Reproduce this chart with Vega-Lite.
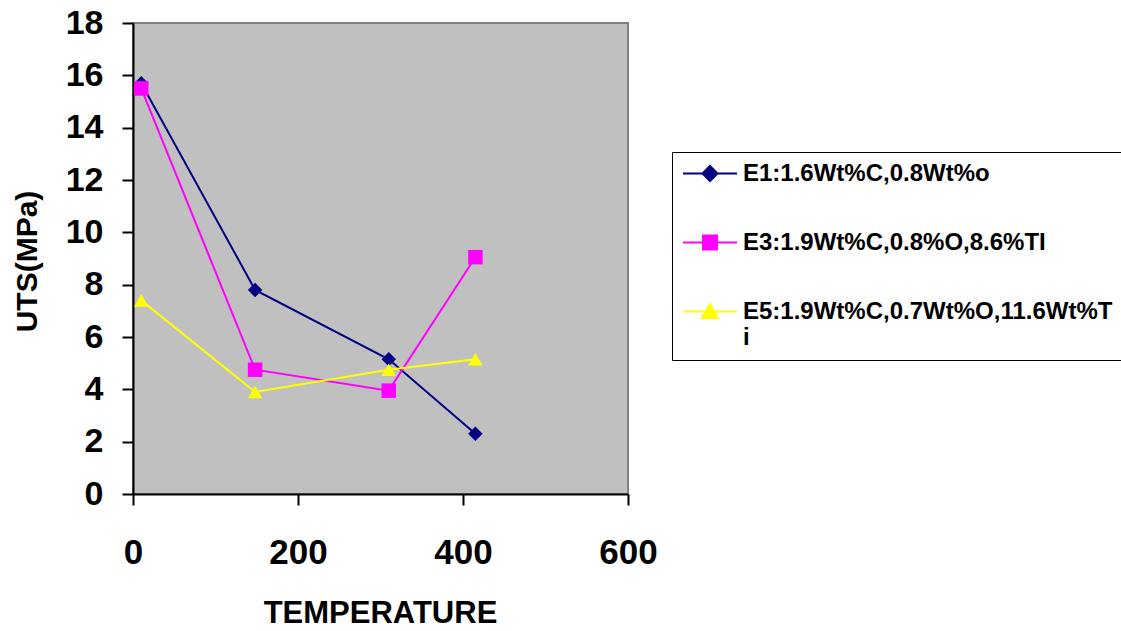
{
  "$schema": "https://vega.github.io/schema/vega-lite/v6.json",
  "width": 495,
  "height": 471,
  "autosize": {"type": "none"},
  "padding": {"left": 133, "top": 23, "right": 493, "bottom": 137},
  "background": "white",
  "config": {
    "view": {"fill": "#C0C0C0", "stroke": "#808080", "strokeWidth": 2},
    "font": "Liberation Sans"
  },
  "data": {
    "values": [
      {"series": "E1:1.6Wt%C,0.8Wt%o", "temp": 10, "uts": 15.7},
      {"series": "E1:1.6Wt%C,0.8Wt%o", "temp": 148, "uts": 7.8},
      {"series": "E1:1.6Wt%C,0.8Wt%o", "temp": 310, "uts": 5.15},
      {"series": "E1:1.6Wt%C,0.8Wt%o", "temp": 415, "uts": 2.3},
      {"series": "E3:1.9Wt%C,0.8%O,8.6%TI", "temp": 10, "uts": 15.5},
      {"series": "E3:1.9Wt%C,0.8%O,8.6%TI", "temp": 148, "uts": 4.75},
      {"series": "E3:1.9Wt%C,0.8%O,8.6%TI", "temp": 310, "uts": 3.95},
      {"series": "E3:1.9Wt%C,0.8%O,8.6%TI", "temp": 415, "uts": 9.05},
      {"series": "E5:1.9Wt%C,0.7Wt%O,11.6Wt%Ti", "temp": 10, "uts": 7.4},
      {"series": "E5:1.9Wt%C,0.7Wt%O,11.6Wt%Ti", "temp": 148, "uts": 3.9},
      {"series": "E5:1.9Wt%C,0.7Wt%O,11.6Wt%Ti", "temp": 310, "uts": 4.75},
      {"series": "E5:1.9Wt%C,0.7Wt%O,11.6Wt%Ti", "temp": 415, "uts": 5.15}
    ]
  },
  "encoding": {
    "x": {
      "field": "temp", "type": "quantitative",
      "scale": {"domain": [0, 600], "nice": false, "zero": false},
      "axis": {
        "title": "TEMPERATURE", "values": [0, 200, 400, 600], "grid": false,
        "domainColor": "black", "domainWidth": 2, "tickColor": "black", "tickWidth": 2, "tickSize": 11,
        "labelFont": "Liberation Sans", "labelFontSize": 35, "labelFontWeight": "bold", "labelColor": "black",
        "labelPadding": 30, "labelFlush": false, "labelOverlap": false,
        "titleFont": "Liberation Sans", "titleFontSize": 31, "titleFontWeight": "bold", "titleColor": "black",
        "titleX": 247, "titleY": 119, "titleBaseline": "middle", "titleAlign": "center"
      }
    },
    "y": {
      "field": "uts", "type": "quantitative",
      "scale": {"domain": [0, 18], "nice": false},
      "axis": {
        "title": "UTS(MPa)", "values": [0, 2, 4, 6, 8, 10, 12, 14, 16, 18], "grid": false,
        "domainColor": "black", "domainWidth": 2, "tickColor": "black", "tickWidth": 2, "tickSize": 11,
        "labelFont": "Liberation Sans", "labelFontSize": 34, "labelFontWeight": "bold", "labelColor": "black",
        "labelPadding": 19, "labelFlush": false, "labelOverlap": false,
        "titleFont": "Liberation Sans", "titleFontSize": 30, "titleFontWeight": "bold", "titleColor": "black",
        "titleAngle": -90, "titleX": -106, "titleY": 238, "titleBaseline": "middle", "titleAlign": "center"
      }
    }
  },
  "resolve": {"scale": {"shape": "independent", "fill": "independent", "stroke": "independent"}},
  "layer": [
    {
      "mark": {"type": "line", "strokeWidth": 2},
      "encoding": {
        "order": {"field": "temp", "type": "quantitative"},
        "color": {
          "field": "series", "type": "nominal",
          "scale": {
            "domain": ["E1:1.6Wt%C,0.8Wt%o", "E3:1.9Wt%C,0.8%O,8.6%TI", "E5:1.9Wt%C,0.7Wt%O,11.6Wt%Ti"],
            "range": ["#000080", "#FF00FF", "#FFFF00"]
          },
          "legend": null
        }
      }
    },
    {
      "mark": {"type": "point", "filled": true, "opacity": 1},
      "encoding": {
        "color": {
          "field": "series", "type": "nominal",
          "scale": {
            "domain": ["E1:1.6Wt%C,0.8Wt%o", "E3:1.9Wt%C,0.8%O,8.6%TI", "E5:1.9Wt%C,0.7Wt%O,11.6Wt%Ti"],
            "range": ["#000080", "#FF00FF", "#FFFF00"]
          },
          "legend": null
        },
        "shape": {
          "field": "series", "type": "nominal",
          "scale": {
            "domain": ["E1:1.6Wt%C,0.8Wt%o", "E3:1.9Wt%C,0.8%O,8.6%TI", "E5:1.9Wt%C,0.7Wt%O,11.6Wt%Ti"],
            "range": ["diamond", "square", "triangle-up"]
          },
          "legend": null
        },
        "size": {"value": 210}
      }
    },
    {
      "mark": {"type": "point", "filled": true, "opacity": 0, "strokeWidth": 2},
      "encoding": {
        "fill": {
          "field": "series", "type": "nominal",
          "scale": {
            "domain": ["E1:1.6Wt%C,0.8Wt%o", "E3:1.9Wt%C,0.8%O,8.6%TI", "E5:1.9Wt%C,0.7Wt%O,11.6Wt%Ti"],
            "range": ["#000080", "#FF00FF", "#FFFF00"]
          },
          "legend": {
            "title": " ", "titleFontSize": 1, "titlePadding": 6,
            "orient": "none", "legendX": 539, "legendY": 129,
            "strokeColor": "black", "fillColor": "white",
            "padding": 10,
            "labelFont": "Liberation Sans", "labelFontSize": 24, "labelFontWeight": "bold", "labelColor": "black",
            "labelLimit": 600, "labelBaseline": "alphabetic", "labelOffset": 21,
            "labelExpr": "datum.value == 'E5:1.9Wt%C,0.7Wt%O,11.6Wt%Ti' ? ['E5:1.9Wt%C,0.7Wt%O,11.6Wt%T', 'i'] : datum.label",
            "symbolSize": 400, "symbolOffset": 16, "rowPadding": 45, "symbolStrokeWidth": 2, "symbolOpacity": 1,
            "symbolFillColor": "white"
          }
        },
        "stroke": {
          "field": "series", "type": "nominal",
          "scale": {
            "domain": ["E1:1.6Wt%C,0.8Wt%o", "E3:1.9Wt%C,0.8%O,8.6%TI", "E5:1.9Wt%C,0.7Wt%O,11.6Wt%Ti"],
            "range": ["#000080", "#FF00FF", "#FFFF00"]
          },
          "legend": {"title": " ", "symbolFillColor": "white"}
        },
        "shape": {
          "field": "series", "type": "nominal",
          "scale": {
            "domain": ["E1:1.6Wt%C,0.8Wt%o", "E3:1.9Wt%C,0.8%O,8.6%TI", "E5:1.9Wt%C,0.7Wt%O,11.6Wt%Ti"],
            "range": ["M-2.7,-0.75H2.7M0,-1.5L0.75,-0.75L0,0L-0.75,-0.75Z", "M-2.7,-0.75H2.7M-0.7,-1.45H0.7V-0.05H-0.7Z", "M-2.7,-0.75H2.7M0,-1.5L0.8,-0.1L-0.8,-0.1Z"]
          },
          "legend": {"title": " ", "symbolFillColor": "white"}
        }
      }
    }
  ]
}
